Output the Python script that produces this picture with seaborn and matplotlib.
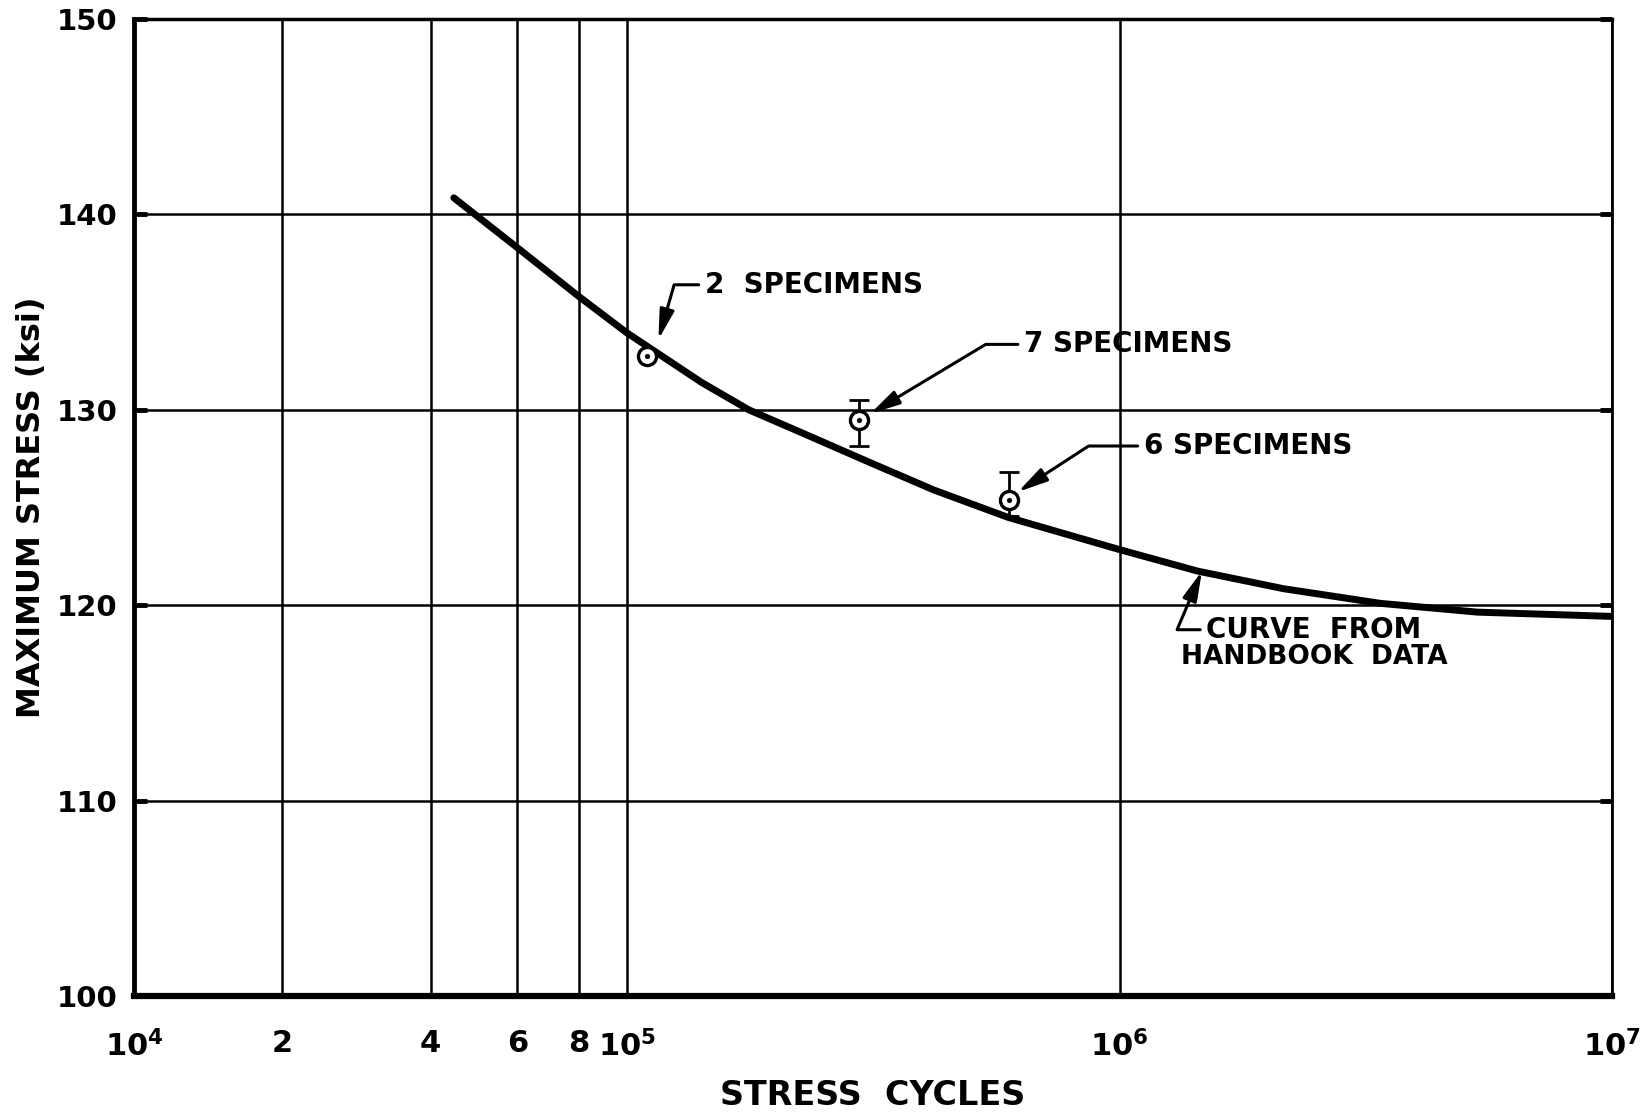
import numpy as np
import pandas as pd
import matplotlib
matplotlib.use("Agg")
import matplotlib.pyplot as plt
import seaborn as sns

# ---- data ----
curve_cycles = [4.46e4, 6e4, 8e4, 1e5, 1.42e5, 1.77e5, 2.28e5, 3.12e5, 4.2e5,
                5.94e5, 1e6, 1.44e6, 2.15e6, 3.38e6, 5.32e6, 1e7]
curve_stress = [140.85, 138.3, 135.8, 133.95, 131.4, 130.0, 128.8, 127.3, 125.9,
                124.5, 122.85, 121.75, 120.85, 120.1, 119.65, 119.43]

point_cycles = [1.10e5, 2.96e5, 5.97e5]
point_stress = [132.76, 129.5, 125.37]

err_cycles = [2.96e5, 5.97e5]
err_center = [129.5, 125.37]
err_low = [1.33, 0.8]
err_high = [0.98, 1.43]

ann_labels = ["2  SPECIMENS", "7 SPECIMENS", "6 SPECIMENS"]
ann_tip_x = [1.16e5, 3.12e5, 6.22e5]
ann_tip_y = [133.6, 129.8, 125.8]
ann_text_x = [1.44e5, 6.4e5, 1.12e6]
ann_text_y = [136.4, 133.35, 128.15]
ann_angle = [74, 31, 33]

curve_label_1 = "CURVE  FROM"
curve_label_2 = "HANDBOOK  DATA"
curve_tip = (1.47e6, 121.75)
curve_text1 = (1.50e6, 118.75)
curve_text2 = (1.33e6, 117.35)

x_ticks = [1e4, 2e4, 4e4, 6e4, 8e4, 1e5, 1e6, 1e7]
x_ticklabels = [r"$10^4$", "2", "4", "6", "8", r"$10^5$", r"$10^6$", r"$10^7$"]
y_ticks = [100, 110, 120, 130, 140, 150]
y_ticklabels = ["100", "110", "120", "130", "140", "150"]

# ---- style ----
sns.set_style("white")
plt.rcParams["font.family"] = ["DejaVu Sans"]
plt.rcParams["font.weight"] = "bold"
plt.rcParams["mathtext.default"] = "bf"
plt.rcParams["text.color"] = "black"
plt.rcParams["axes.labelcolor"] = "black"
plt.rcParams["xtick.color"] = "black"
plt.rcParams["ytick.color"] = "black"

fig = plt.figure(figsize=(16.52, 11.18), dpi=100)
ax = fig.add_axes([0.081, 0.109, 0.895, 0.874])
ax.set_xscale("log")
ax.set_xlim(1e4, 1e7)
ax.set_ylim(100, 150)

# grid / ticks
ax.set_xticks(x_ticks)
ax.set_xticklabels(x_ticklabels, fontsize=22, fontweight="bold", color="black")
ax.xaxis.set_minor_locator(matplotlib.ticker.NullLocator())
ax.set_yticks(y_ticks)
ax.set_yticklabels(y_ticklabels, fontsize=21, fontweight="bold", color="black")
ax.grid(True, color="black", linewidth=1.8)
ax.set_axisbelow(True)

ax.tick_params(axis="x", length=0, pad=24)
ax.tick_params(axis="y", direction="in", length=9, width=3.5, left=True, right=True, pad=12)

for side, lw in [("left", 3.5), ("bottom", 4.5), ("top", 2.5), ("right", 2.0)]:
    ax.spines[side].set_linewidth(lw)
    ax.spines[side].set_color("black")

# curve
df_curve = pd.DataFrame({"cycles": curve_cycles, "stress": curve_stress})
sns.lineplot(data=df_curve, x="cycles", y="stress", ax=ax, color="black",
             linewidth=5, sort=True, zorder=3, solid_joinstyle="round",
             solid_capstyle="round")

# error bars
ax.errorbar(err_cycles, err_center, yerr=[err_low, err_high], fmt="none",
            ecolor="black", elinewidth=2, capsize=7, capthick=2, zorder=4)

# points
df_pts = pd.DataFrame({"cycles": point_cycles, "stress": point_stress})
sns.scatterplot(data=df_pts, x="cycles", y="stress", ax=ax, marker="o", s=170,
                facecolor="white", edgecolor="black", linewidth=2.4, zorder=5)
sns.scatterplot(data=df_pts, x="cycles", y="stress", ax=ax, marker="o", s=12,
                color="black", edgecolor="black", zorder=6)

arrow_base = dict(arrowstyle="-|>,head_length=0.9,head_width=0.22", color="black",
                  lw=2.2, shrinkA=2, shrinkB=0, relpos=(0, 0.5))

for lab, tx, ty, px, py, ang in zip(ann_labels, ann_text_x, ann_text_y,
                                    ann_tip_x, ann_tip_y, ann_angle):
    props = dict(arrow_base)
    props["connectionstyle"] = f"angle,angleA=0,angleB={ang},rad=0"
    ax.annotate(lab, xy=(px, py), xytext=(tx, ty), textcoords="data",
                ha="left", va="center", fontsize=20, fontweight="bold",
                color="black", arrowprops=props, zorder=7)

props = dict(arrow_base)
props["connectionstyle"] = "angle,angleA=0,angleB=67,rad=0"
ax.annotate(curve_label_1, xy=curve_tip, xytext=curve_text1, textcoords="data",
            ha="left", va="center", fontsize=20, fontweight="bold",
            color="black", arrowprops=props, zorder=7)
ax.text(curve_text2[0], curve_text2[1], curve_label_2, ha="left", va="center",
        fontsize=19, fontweight="bold", color="black", zorder=7)

ax.set_xlabel("STRESS  CYCLES", fontsize=24, fontweight="bold", labelpad=12,
              color="black")
ax.set_ylabel("MAXIMUM STRESS (ksi)", fontsize=23, fontweight="bold", labelpad=7,
              color="black")

fig.savefig("out.png", dpi=100, facecolor="white")
